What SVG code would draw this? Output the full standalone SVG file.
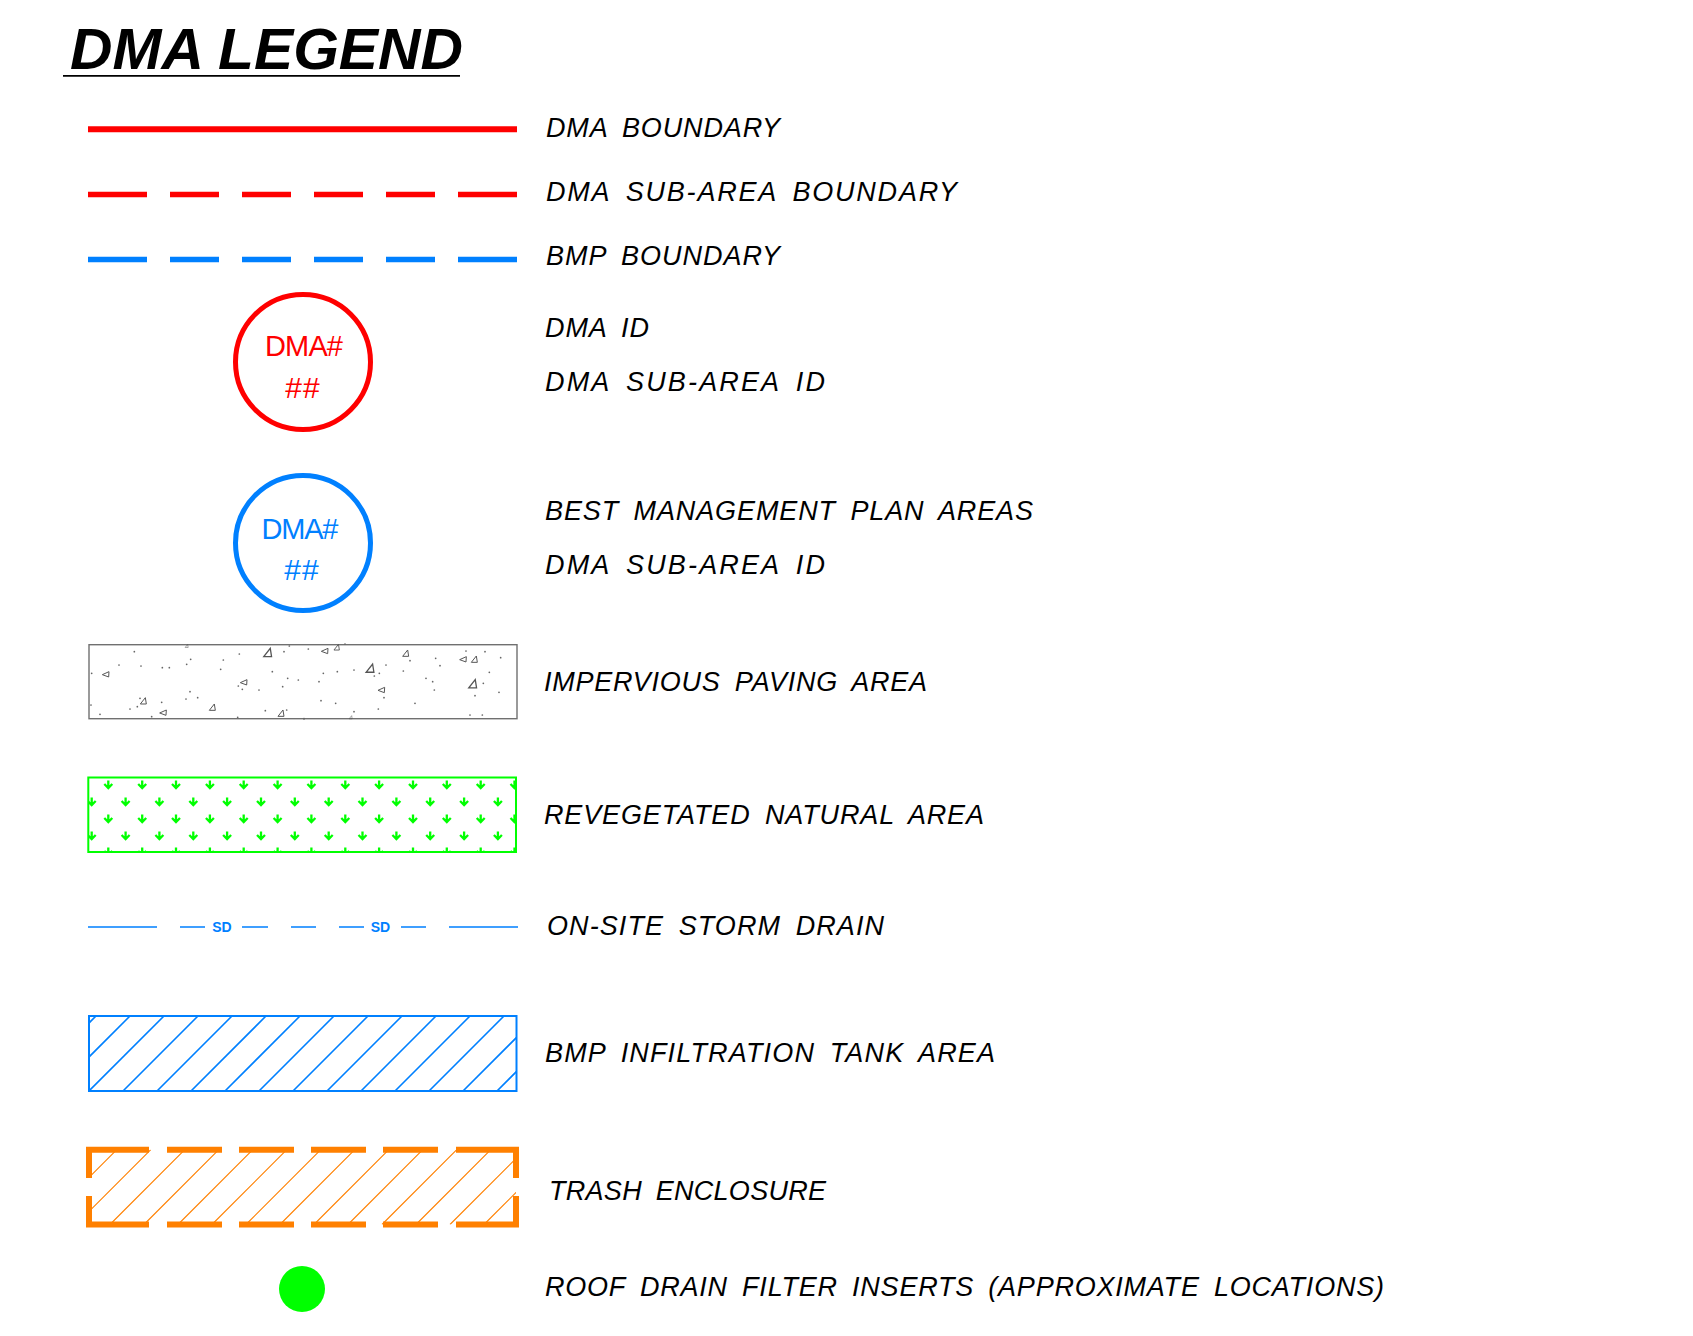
<svg xmlns="http://www.w3.org/2000/svg" xmlns:xlink="http://www.w3.org/1999/xlink" width="1693" height="1336" viewBox="0 0 1693 1336">
<style>
.lbl{font-family:"Liberation Sans",Arial,sans-serif;font-style:italic;font-size:27px;fill:#000;word-spacing:6px}
.ttl{font-family:"Liberation Sans",Arial,sans-serif;font-style:italic;font-weight:bold;font-size:57px;fill:#000}
.cid{font-family:"Liberation Sans",Arial,sans-serif;font-size:29px;text-anchor:middle}
.hh{font-family:"Liberation Sans",Arial,sans-serif;font-size:30px;text-anchor:middle;letter-spacing:1px}
.sd{font-family:"Liberation Sans",Arial,sans-serif;font-weight:bold;font-size:14px;fill:#0080FF;text-anchor:middle}
.red{stroke:#FF0000;fill:none}
.blue{stroke:#0080FF;fill:none}
.grn{stroke:#00FF00;fill:none}
.org{stroke:#FF8000;fill:none}
.tri{fill:none;stroke:#555;stroke-width:3}
.dot{fill:#666}
</style>
<defs>
<polygon id="ta" points="-9,9 9,9 6,-10"/>
<polygon id="tb" points="-11,1 9,-8 8,8"/>
<path id="gr" d="M0,-4.5V3M-4,-1L0,3L4,-1" stroke="#00FF00" stroke-width="2.3" fill="none"/>
<clipPath id="cpG"><rect x="89" y="778" width="427" height="74"/></clipPath>
<clipPath id="cpT"><rect x="89" y="1016" width="427.5" height="75"/></clipPath>
<clipPath id="cpO"><rect x="89" y="1149.7" width="427" height="74.8"/></clipPath>
</defs>
<rect width="1693" height="1336" fill="#fff"/>

<g id="title">
<text class="ttl" x="70" y="69" textLength="393" lengthAdjust="spacingAndGlyphs">DMA LEGEND</text>
<line x1="63" y1="75.8" x2="460" y2="75.8" stroke="#000" stroke-width="1.8"/>
</g>

<g id="dma-boundary">
<line class="red" x1="88" y1="129.3" x2="517" y2="129.3" stroke-width="6"/>
<text class="lbl" x="546" y="137" textLength="234">DMA BOUNDARY</text>
</g>

<g id="dma-sub-area-boundary">
<path class="red" stroke-width="5.7" d="M88,194.5H147M170,194.5H219M242,194.5H291M314,194.5H363M386,194.5H435M458,194.5H517"/>
<text class="lbl" x="546" y="201" textLength="411">DMA SUB-AREA BOUNDARY</text>
</g>

<g id="bmp-boundary">
<path class="blue" stroke-width="5.7" d="M88,259.5H147M170,259.5H219M242,259.5H291M314,259.5H363M386,259.5H435M458,259.5H517"/>
<text class="lbl" x="546" y="265" textLength="234">BMP BOUNDARY</text>
</g>

<g id="dma-id">
<circle class="red" cx="303" cy="362" r="67.5" stroke-width="5"/>
<text class="cid" x="304" y="356" fill="#FF0000" textLength="78">DMA#</text>
<text class="hh" x="303" y="398" fill="#FF0000">##</text>
<text class="lbl" x="545" y="337" textLength="104">DMA ID</text>
<text class="lbl" x="545" y="391" textLength="280">DMA SUB-AREA ID</text>
</g>

<g id="bmp-areas">
<circle class="blue" cx="303" cy="543" r="67.5" stroke-width="5"/>
<text class="cid" x="300" y="539" fill="#0080FF" textLength="77">DMA#</text>
<text class="hh" x="302" y="580" fill="#0080FF">##</text>
<text class="lbl" x="545" y="520" textLength="488">BEST MANAGEMENT PLAN AREAS</text>
<text class="lbl" x="545" y="574" textLength="280">DMA SUB-AREA ID</text>
</g>

<g id="impervious-paving">
<rect x="89" y="644.7" width="428" height="74" fill="none" stroke="#707070" stroke-width="1.4"/>
<g transform="translate(80,630) scale(0.33333)">
<use href="#ta" class="tri" transform="translate(320,48) scale(0.5)"/>
<use href="#ta" class="tri" transform="translate(563,68) scale(1.3)"/>
<use href="#tb" class="tri" transform="translate(735,63)"/>
<use href="#ta" class="tri" transform="translate(770,52) scale(0.9)"/>
<use href="#ta" class="tri" transform="translate(977,70)"/>
<use href="#tb" class="tri" transform="translate(1150,88)"/>
<use href="#ta" class="tri" transform="translate(1183,88)"/>
<use href="#tb" class="tri" transform="translate(78,133)"/>
<use href="#ta" class="tri" transform="translate(870,115) scale(1.3)"/>
<use href="#tb" class="tri" transform="translate(492,157)"/>
<use href="#tb" class="tri" transform="translate(905,180)"/>
<use href="#ta" class="tri" transform="translate(1178,162) scale(1.3)"/>
<use href="#ta" class="tri" transform="translate(190,213)"/>
<use href="#ta" class="tri" transform="translate(397,232)"/>
<use href="#tb" class="tri" transform="translate(250,248)"/>
<use href="#ta" class="tri" transform="translate(603,250)"/>
<use href="#ta" class="tri" transform="translate(812,262) scale(0.5)"/>
<g class="dot">
<circle cx="163" cy="65" r="2.6"/><circle cx="117" cy="105" r="2.6"/><circle cx="183" cy="108" r="2.6"/><circle cx="247" cy="113" r="2.6"/><circle cx="268" cy="113" r="2.6"/><circle cx="320" cy="103" r="2.6"/><circle cx="332" cy="88" r="2.6"/><circle cx="430" cy="90" r="2.6"/><circle cx="422" cy="118" r="2.6"/><circle cx="478" cy="72" r="2.6"/><circle cx="612" cy="65" r="2.6"/><circle cx="628" cy="48" r="2.6"/><circle cx="685" cy="57" r="2.6"/><circle cx="795" cy="42" r="2.6"/><circle cx="577" cy="125" r="2.6"/><circle cx="623" cy="145" r="2.6"/><circle cx="655" cy="150" r="2.6"/><circle cx="717" cy="155" r="2.6"/><circle cx="730" cy="130" r="2.6"/><circle cx="772" cy="125" r="2.6"/><circle cx="822" cy="120" r="2.6"/><circle cx="918" cy="105" r="2.6"/><circle cx="898" cy="130" r="2.6"/><circle cx="883" cy="138" r="2.6"/><circle cx="970" cy="123" r="2.6"/><circle cx="990" cy="92" r="2.6"/><circle cx="1067" cy="85" r="2.6"/><circle cx="1080" cy="107" r="2.6"/><circle cx="1158" cy="63" r="2.6"/><circle cx="1215" cy="65" r="2.6"/><circle cx="1262" cy="83" r="2.6"/><circle cx="1228" cy="127" r="2.6"/><circle cx="1038" cy="145" r="2.6"/><circle cx="1058" cy="155" r="2.6"/><circle cx="1210" cy="160" r="2.6"/><circle cx="1063" cy="180" r="2.6"/><circle cx="1257" cy="187" r="2.6"/><circle cx="1185" cy="197" r="2.6"/><circle cx="1005" cy="220" r="2.6"/><circle cx="895" cy="237" r="2.6"/><circle cx="912" cy="203" r="2.6"/><circle cx="822" cy="245" r="2.6"/><circle cx="767" cy="220" r="2.6"/><circle cx="723" cy="212" r="2.6"/><circle cx="608" cy="170" r="2.6"/><circle cx="537" cy="180" r="2.6"/><circle cx="487" cy="178" r="2.6"/><circle cx="475" cy="168" r="2.6"/><circle cx="330" cy="185" r="2.6"/><circle cx="353" cy="203" r="2.6"/><circle cx="318" cy="207" r="2.6"/><circle cx="245" cy="217" r="2.6"/><circle cx="180" cy="205" r="2.6"/><circle cx="172" cy="230" r="2.6"/><circle cx="150" cy="237" r="2.6"/><circle cx="60" cy="253" r="2.6"/><circle cx="215" cy="260" r="2.6"/><circle cx="473" cy="262" r="2.6"/><circle cx="556" cy="242" r="2.6"/><circle cx="620" cy="240" r="2.6"/><circle cx="1170" cy="255" r="2.6"/><circle cx="1207" cy="255" r="2.6"/><circle cx="35" cy="130" r="2.6"/><circle cx="33" cy="225" r="2.6"/><circle cx="672" cy="266" r="3"/>
</g>
</g>
<text class="lbl" x="544" y="691" textLength="383">IMPERVIOUS PAVING AREA</text>
</g>

<g id="revegetated-natural-area">
<g clip-path="url(#cpG)">
<use href="#gr" x="108.3" y="785"/><use href="#gr" x="142.2" y="785"/><use href="#gr" x="176" y="785"/><use href="#gr" x="209.9" y="785"/><use href="#gr" x="243.7" y="785"/><use href="#gr" x="277.6" y="785"/><use href="#gr" x="311.4" y="785"/><use href="#gr" x="345.3" y="785"/><use href="#gr" x="379.1" y="785"/><use href="#gr" x="413" y="785"/><use href="#gr" x="446.8" y="785"/><use href="#gr" x="480.7" y="785"/><use href="#gr" x="514.5" y="785"/>
<use href="#gr" x="108.3" y="819"/><use href="#gr" x="142.2" y="819"/><use href="#gr" x="176" y="819"/><use href="#gr" x="209.9" y="819"/><use href="#gr" x="243.7" y="819"/><use href="#gr" x="277.6" y="819"/><use href="#gr" x="311.4" y="819"/><use href="#gr" x="345.3" y="819"/><use href="#gr" x="379.1" y="819"/><use href="#gr" x="413" y="819"/><use href="#gr" x="446.8" y="819"/><use href="#gr" x="480.7" y="819"/><use href="#gr" x="514.5" y="819"/>
<use href="#gr" x="108.3" y="852"/><use href="#gr" x="142.2" y="852"/><use href="#gr" x="176" y="852"/><use href="#gr" x="209.9" y="852"/><use href="#gr" x="243.7" y="852"/><use href="#gr" x="277.6" y="852"/><use href="#gr" x="311.4" y="852"/><use href="#gr" x="345.3" y="852"/><use href="#gr" x="379.1" y="852"/><use href="#gr" x="413" y="852"/><use href="#gr" x="446.8" y="852"/><use href="#gr" x="480.7" y="852"/><use href="#gr" x="514.5" y="852"/>
<use href="#gr" x="91.7" y="802"/><use href="#gr" x="125.6" y="802"/><use href="#gr" x="159.4" y="802"/><use href="#gr" x="193.3" y="802"/><use href="#gr" x="227.1" y="802"/><use href="#gr" x="261" y="802"/><use href="#gr" x="294.8" y="802"/><use href="#gr" x="328.7" y="802"/><use href="#gr" x="362.5" y="802"/><use href="#gr" x="396.4" y="802"/><use href="#gr" x="430.2" y="802"/><use href="#gr" x="464.1" y="802"/><use href="#gr" x="497.9" y="802"/>
<use href="#gr" x="91.7" y="836"/><use href="#gr" x="125.6" y="836"/><use href="#gr" x="159.4" y="836"/><use href="#gr" x="193.3" y="836"/><use href="#gr" x="227.1" y="836"/><use href="#gr" x="261" y="836"/><use href="#gr" x="294.8" y="836"/><use href="#gr" x="328.7" y="836"/><use href="#gr" x="362.5" y="836"/><use href="#gr" x="396.4" y="836"/><use href="#gr" x="430.2" y="836"/><use href="#gr" x="464.1" y="836"/><use href="#gr" x="497.9" y="836"/>
</g>
<rect class="grn" x="88.3" y="777.5" width="427.7" height="74.5" stroke-width="2"/>
<text class="lbl" x="544" y="824" textLength="440">REVEGETATED NATURAL AREA</text>
</g>

<g id="on-site-storm-drain">
<path class="blue" stroke-width="1.6" d="M88,927H157M180,927H205M242,927H268M291,927H316M339,927H364M401,927H426M449,927H518"/>
<text class="sd" x="222" y="932">SD</text>
<text class="sd" x="380.5" y="932">SD</text>
<text class="lbl" x="547" y="935" textLength="337">ON-SITE STORM DRAIN</text>
</g>

<g id="bmp-infiltration-tank-area">
<path class="blue" stroke-width="1.6" clip-path="url(#cpT)" d="M21,1091L96,1016M55,1091L130,1016M89,1091L164,1016M123,1091L198,1016M157,1091L232,1016M191,1091L266,1016M225,1091L300,1016M259,1091L334,1016M293,1091L368,1016M327,1091L402,1016M361,1091L436,1016M395,1091L470,1016M429,1091L504,1016M463,1091L538,1016M497,1091L572,1016"/>
<rect class="blue" x="89" y="1016" width="427.5" height="75" stroke-width="2"/>
<text class="lbl" x="545" y="1062" textLength="450">BMP INFILTRATION TANK AREA</text>
</g>

<g id="trash-enclosure">
<path class="org" stroke-width="1.1" clip-path="url(#cpO)" d="M42,1224.5L116.8,1149.7M76,1224.5L150.8,1149.7M110,1224.5L184.8,1149.7M144,1224.5L218.8,1149.7M178,1224.5L252.8,1149.7M212,1224.5L286.8,1149.7M246,1224.5L320.8,1149.7M280,1224.5L354.8,1149.7M314,1224.5L388.8,1149.7M348,1224.5L422.8,1149.7M382,1224.5L456.8,1149.7M416,1224.5L490.8,1149.7M450,1224.5L524.8,1149.7M484,1224.5L558.8,1149.7"/>
<path class="org" stroke-width="6" stroke-linecap="square" d="M89,1175V1149.7H146M170,1149.7H219M242,1149.7H291M314,1149.7H363M386,1149.7H435M459,1149.7H516V1175M89,1199V1224.5H146M170,1224.5H219M242,1224.5H291M314,1224.5H363M386,1224.5H435M459,1224.5H516V1199"/>
<text class="lbl" x="549" y="1200" textLength="277">TRASH ENCLOSURE</text>
</g>

<g id="roof-drain-filter-inserts">
<circle cx="302" cy="1289" r="23" fill="#00FF00"/>
<text class="lbl" x="545" y="1296" textLength="839">ROOF DRAIN FILTER INSERTS (APPROXIMATE LOCATIONS)</text>
</g>
</svg>
